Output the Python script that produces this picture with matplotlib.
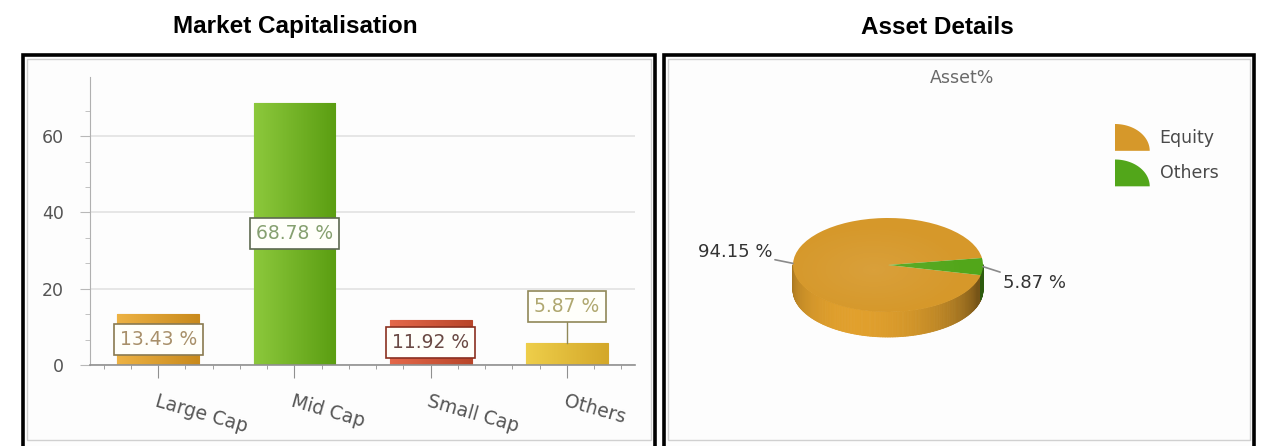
import numpy as np
import matplotlib
matplotlib.use('Agg')
import matplotlib.pyplot as plt
import matplotlib.patches as mpatches
from matplotlib.collections import PolyCollection
from matplotlib.colors import LinearSegmentedColormap, to_rgb
from matplotlib.legend_handler import HandlerBase
from matplotlib.ticker import MultipleLocator, FixedLocator

# market capitalisation split
caps = ['Large Cap', 'Mid Cap', 'Small Cap', 'Others']
cap_pct = [13.43, 68.78, 11.92, 5.87]
cap_light = ['#EDB244', '#8CC83C', '#E4684A', '#EECE4A']
cap_dark = ['#C98A1C', '#5B9E12', '#B9462A', '#D4A82A']
cap_text = ['#A8906A', '#86A070', '#6A4A44', '#B0A870']
cap_edge = ['#8A7A50', '#5E6A50', '#8A3020', '#908858']

# asset split
assets = ['Equity', 'Others']
asset_pct = [94.15, 5.87]
asset_colors = ['#D6982A', '#52A61A']

W, H = 1267, 446
GRAY = '#555555'


def px(x, y):
    # pixel position (origin top-left) -> figure fraction
    return x / W, 1 - y / H


def box(x0, y0, x1, y1):
    return [x0 / W, 1 - y1 / H, (x1 - x0) / W, (y1 - y0) / H]


fig = plt.figure(figsize=(W / 100, H / 100), dpi=100)
plt.rcParams['font.family'] = ['DejaVu Sans']

# panel frames
for x0, x1 in [(23, 655), (664, 1254)]:
    fig.add_artist(mpatches.Rectangle(px(x0, 480), (x1 - x0) / W, (480 - 55) / H,
                                      transform=fig.transFigure, fc='#FDFDFD',
                                      ec='black', lw=2.6, zorder=-2))
    fig.add_artist(mpatches.Rectangle(px(x0 + 4, 440), (x1 - x0 - 8) / W, (440 - 59) / H,
                                      transform=fig.transFigure, fc='none',
                                      ec='#D0D0D0', lw=1, zorder=-1))

fig.text(*px(295, 27), 'Market Capitalisation', ha='center', va='center',
         fontsize=17.5, fontweight='bold', family='Liberation Sans')
fig.text(*px(937, 27), 'Asset Details', ha='center', va='center',
         fontsize=17.5, fontweight='bold', family='Liberation Sans')

# ---- bar chart ----
ax = fig.add_axes(box(90, 77, 635, 365))
ax.patch.set_visible(False)
x = np.arange(len(caps))
bars = ax.bar(x, cap_pct, width=0.6, color=cap_dark, edgecolor=cap_dark, lw=0.8, zorder=2)
grad = np.linspace(0, 1, 64)[None, :]
for b, c0, c1 in zip(bars, cap_light, cap_dark):
    cmap = LinearSegmentedColormap.from_list('bar', [c0, c1])
    im = ax.imshow(grad, cmap=cmap, aspect='auto', zorder=2.1,
                   extent=[b.get_x(), b.get_x() + b.get_width(), 0, b.get_height()])
    im.set_clip_path(b)

for xi, v, tc, ec in zip(x, cap_pct, cap_text, cap_edge):
    if v < 8:
        yl = v + 9.5
        ax.plot([xi, xi], [v, yl], color=ec, lw=1, zorder=3)
    else:
        yl = v / 2
    ax.text(xi, yl, f'{v:.2f} %', ha='center', va='center', fontsize=13.5, color=tc,
            zorder=4, bbox=dict(boxstyle='square,pad=0.32', fc='#FFFFFA', ec=ec, lw=1.2))

ax.set_xlim(-0.5, 3.5)
ax.set_ylim(0, 75.5)
ax.set_xticks(x)
ax.set_xticklabels(caps, rotation=-16, ha='left', va='top', rotation_mode='anchor',
                   fontsize=13.5, color=GRAY)
ax.xaxis.set_minor_locator(MultipleLocator(0.2))
ax.set_yticks([0, 20, 40, 60])
ax.yaxis.set_minor_locator(FixedLocator(np.arange(0, 70, 20 / 3)))
ax.tick_params(axis='y', which='major', length=7, color='#B8B8B8', labelsize=12.5,
               labelcolor=GRAY, pad=12)
ax.tick_params(axis='y', which='minor', length=3.5, color='#B8B8B8')
ax.tick_params(axis='x', which='major', length=9, color='#909090', pad=10)
ax.tick_params(axis='x', which='minor', length=3, color='#909090')
ax.grid(axis='y', color='#E4E4E4', lw=1.3, zorder=0)
for s in ['top', 'right']:
    ax.spines[s].set_visible(False)
ax.spines['left'].set_color('#B0B0B0')
ax.spines['bottom'].set_color('#909090')
ax.spines['bottom'].set_linewidth(1.2)

# ---- 3d-look pie ----
cx_px, cy_px, ra, rb, depth = 888, 265, 95, 47, 25
px0, px1, py0, py1 = 690, 1090, 170, 370
pax = fig.add_axes(box(px0, py0, px1, py1))
pax.axis('off')
wedges, _ = pax.pie(asset_pct, colors=asset_colors, startangle=8.6, counterclock=True,
                    radius=1, wedgeprops=dict(lw=0, zorder=3))
pax.set_aspect('auto')
d = depth / rb

# rim of the pie: front half, shaded like a cylinder
polys, cols = [], []
for w, c in zip(wedges, asset_colors):
    t1, t2 = w.theta1 % 360, w.theta2 % 360
    if t2 <= t1:
        t2 += 360
    for a in np.arange(t1, t2, 1.0):
        b2 = min(a + 1.0, t2)
        mid = (a + b2) / 2 % 360
        if not 180 <= mid <= 360:
            continue
        r1, r2 = np.radians(a), np.radians(b2)
        polys.append([(np.cos(r1), np.sin(r1)), (np.cos(r2), np.sin(r2)),
                      (np.cos(r2), np.sin(r2) - d), (np.cos(r1), np.sin(r1) - d)])
        shade = 0.55 + 0.5 * max(0.0, np.cos(np.radians(mid - 250))) ** 0.8
        cols.append(np.clip(np.array(to_rgb(c)) * shade, 0, 1))
pax.add_collection(PolyCollection(polys, facecolors=cols, edgecolors=cols, lw=0.6, zorder=2))

# soft highlight on the top face
yy, xx = np.mgrid[-1:1:200j, -1:1:200j]
glow = np.clip(1 - np.hypot(xx + 0.15, yy - 0.1), 0, 1)
top = mpatches.Circle((0, 0), 1, transform=pax.transData, fc='none', ec='none')
pax.add_patch(top)
hl = pax.imshow(np.dstack([np.ones_like(glow)] * 3 + [glow * 0.08]), extent=[-1, 1, -1, 1],
                aspect='auto', zorder=4)
hl.set_clip_path(top)
pax.set_xlim((px0 - cx_px) / ra, (px1 - cx_px) / ra)
pax.set_ylim(-(py1 - cy_px) / rb, (cy_px - py0) / rb)

offsets = [(-0.22, 0.25), (0.21, -0.35)]
for w, v, (dx, dy) in zip(wedges, asset_pct, offsets):
    mid = np.radians((w.theta1 + w.theta2) / 2)
    ax_, ay_ = np.cos(mid), np.sin(mid)
    pax.annotate(f'{v:.2f} %', xy=(ax_, ay_), xytext=(ax_ + dx, ay_ + dy),
                 ha='right' if ax_ < 0 else 'left', va='center', fontsize=13,
                 color='#333333',
                 arrowprops=dict(arrowstyle='-', color='#8A8A8A', lw=1.2,
                                 shrinkA=0, shrinkB=0))

fig.text(*px(962, 78), 'Asset%', ha='center', va='center', fontsize=12.5, color='#6A6A6A')


class QuarterHandler(HandlerBase):
    def create_artists(self, legend, orig_handle, xdescent, ydescent, width, height,
                       fontsize, trans):
        t = np.linspace(0, np.pi / 2, 30)
        pts = np.column_stack([np.r_[0, width * np.cos(t)], np.r_[0, height * np.sin(t)]])
        pts[:, 0] -= xdescent
        pts[:, 1] -= ydescent
        return [mpatches.Polygon(pts, closed=True, fc=orig_handle.get_facecolor(),
                                 ec='none', transform=trans)]


leg = fig.legend(wedges, assets, handler_map={mpatches.Wedge: QuarterHandler()},
                 loc='upper left', bbox_to_anchor=px(1115, 124), frameon=False,
                 fontsize=12.5, handlelength=2.0, handleheight=2.0, labelspacing=0.5,
                 handletextpad=0.57, borderpad=0, borderaxespad=0)
for t in leg.get_texts():
    t.set_color('#4A4A4A')

fig.savefig('out.png', dpi=100)
